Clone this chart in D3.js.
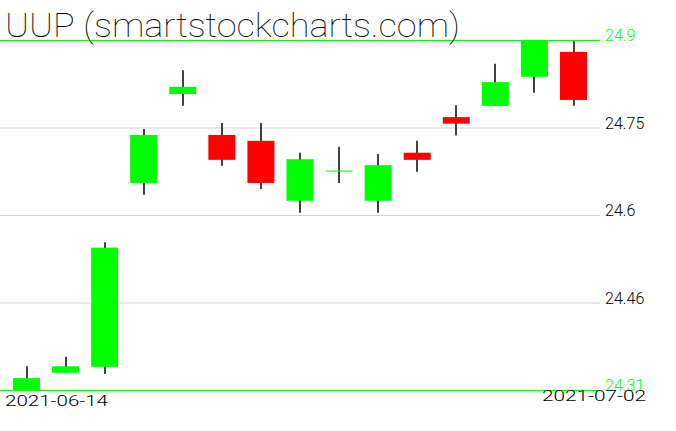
<!DOCTYPE html>
<html><head><meta charset="utf-8">
<script src="https://cdn.jsdelivr.net/npm/d3@7"></script>
<style>html,body{margin:0;padding:0;background:#fff;}svg{display:block;}</style>
</head><body>
<svg id="c" width="676" height="431"></svg>
<script>
const dates = ["2021-06-14","2021-06-15","2021-06-16","2021-06-17","2021-06-18","2021-06-21","2021-06-22","2021-06-23","2021-06-24","2021-06-25","2021-06-28","2021-06-29","2021-06-30","2021-07-01","2021-07-02"];
const openV  = [24.310,24.339,24.349,24.659,24.809,24.740,24.730,24.629,24.679,24.629,24.710,24.770,24.789,24.838,24.880];
const highV  = [24.350,24.366,24.559,24.750,24.849,24.760,24.760,24.710,24.720,24.708,24.730,24.790,24.860,24.900,24.898];
const lowV   = [24.310,24.339,24.337,24.639,24.789,24.688,24.649,24.609,24.659,24.609,24.678,24.739,24.789,24.811,24.789];
const closeV = [24.330,24.350,24.550,24.740,24.821,24.698,24.659,24.699,24.679,24.689,24.698,24.759,24.829,24.900,24.799];
const yTickValues = [24.31,24.4575,24.605,24.7525,24.9];
const yTickLabels = ["24.31","24.46","24.6","24.75","24.9"];
const title = "UUP (smartstockcharts.com)";

const GREEN = "#00ff00", RED = "#ff0000";
const FONT = "Roboto, 'DejaVu Sans', sans-serif";
const svg = d3.select("#c");
const x = d3.scalePoint().domain(dates).range([26.5, 573.5]);
const y = d3.scaleLinear().domain([24.31, 24.9]).range([390, 40]);
const bodyW = 27;

// grid + right labels
const axis = d3.axisRight(y).tickValues(yTickValues)
  .tickFormat((d,i)=>yTickLabels[i]).tickSize(600).tickPadding(5);
const g = svg.append("g").call(axis);
g.select(".domain").remove();
g.selectAll(".tick line").attr("stroke",(d,i)=> (i===0||i===yTickValues.length-1)?GREEN:"#d3d3d3").attr("stroke-width",1);
g.selectAll(".tick text").attr("dy","0.05em").attr("font-family",FONT).attr("font-weight",300).attr("font-size",16)
  .attr("fill",(d,i)=> (i===0||i===yTickValues.length-1)?GREEN:"#000");

const data = dates.map((d,i)=>({d,o:openV[i],h:highV[i],l:lowV[i],c:closeV[i]}));
const cg = svg.append("g");
cg.selectAll("line.wick").data(data).join("line").attr("class","wick")
  .attr("x1",d=>Math.round(x(d.d))).attr("x2",d=>Math.round(x(d.d)))
  .attr("y1",d=>y(d.h)).attr("y2",d=>y(d.l)).attr("stroke","#000").attr("stroke-width",1.5);
cg.selectAll("rect.body").data(data.filter(d=>d.o!==d.c)).join("rect").attr("class","body")
  .attr("x",d=>x(d.d)-bodyW/2).attr("width",bodyW)
  .attr("y",d=>y(Math.max(d.o,d.c))).attr("height",d=>Math.abs(y(d.o)-y(d.c)))
  .attr("fill",d=>d.c>d.o?GREEN:RED);
cg.selectAll("line.doji").data(data.filter(d=>d.o===d.c)).join("line").attr("class","doji")
  .attr("x1",d=>x(d.d)-bodyW/2).attr("x2",d=>x(d.d)+bodyW/2)
  .attr("y1",d=>y(d.o)).attr("y2",d=>y(d.o)).attr("stroke",GREEN).attr("stroke-width",1);

// title
svg.append("text").attr("x",5).attr("y",37).attr("font-family",FONT).attr("font-weight",100)
  .attr("font-size",33).attr("textLength",455).attr("lengthAdjust","spacingAndGlyphs").attr("fill","#000").text(title);

// date labels
svg.append("text").attr("x",5).attr("y",406).attr("font-family",FONT).attr("font-weight",300).attr("font-size",15)
  .attr("textLength",103).attr("lengthAdjust","spacingAndGlyphs").text(dates[0]);
svg.append("text").attr("x",542).attr("y",401).attr("font-family",FONT).attr("font-weight",300).attr("font-size",15)
  .attr("textLength",104).attr("lengthAdjust","spacingAndGlyphs").text(dates[dates.length-1]);
</script>
</body></html>
